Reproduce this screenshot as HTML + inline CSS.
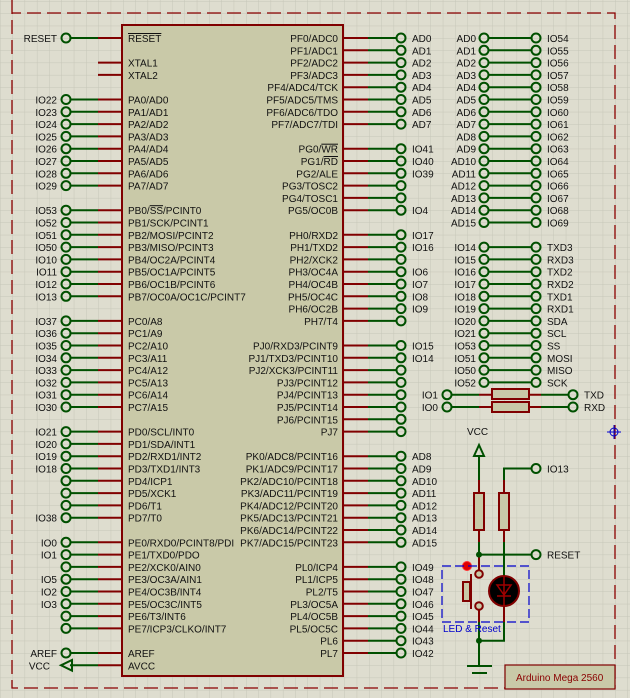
<!DOCTYPE html>
<html><head><meta charset="utf-8"><style>
html,body{margin:0;padding:0;background:#deddcf;}
svg{display:block;}
text{font-family:"Liberation Sans",sans-serif;font-size:10px;fill:#111;}
</style></head><body>
<svg width="630" height="698" viewBox="0 0 630 698" xmlns="http://www.w3.org/2000/svg">
<defs>
<pattern id="g" x="0" y="1.1" width="12.3" height="12.3" patternUnits="userSpaceOnUse">
<path d="M0 0H12.3M0 0V12.3" stroke="#c6c6b8" stroke-width="1" fill="none"/>
</pattern>
<g id="L"><line x1="98" y1="0" x2="122" y2="0" stroke="#800000" stroke-width="2"/><line x1="70" y1="0" x2="98" y2="0" stroke="#005000" stroke-width="2"/><circle cx="66" cy="0" r="4.5" fill="none" stroke="#005000" stroke-width="2"/></g>
<g id="R"><line x1="343" y1="0" x2="368" y2="0" stroke="#800000" stroke-width="2"/><line x1="368" y1="0" x2="397" y2="0" stroke="#005000" stroke-width="2"/><circle cx="401" cy="0" r="4.5" fill="none" stroke="#005000" stroke-width="2"/></g>
<g id="C"><line x1="488" y1="0" x2="532" y2="0" stroke="#005000" stroke-width="2"/><circle cx="484" cy="0" r="4.5" fill="none" stroke="#005000" stroke-width="2"/><circle cx="536" cy="0" r="4.5" fill="none" stroke="#005000" stroke-width="2"/></g>
</defs>
<rect width="630" height="698" fill="url(#g)"/>
<path d="M12 0V688H615V13H12" fill="none" stroke="#8a0000" stroke-width="1.3" stroke-dasharray="14,6"/>
<g stroke="#0000cc" stroke-width="1" fill="none"><circle cx="614" cy="432" r="4"/><line x1="607" y1="432" x2="621" y2="432"/><line x1="614" y1="425" x2="614" y2="439"/></g>
<rect x="122" y="25" width="221" height="651" fill="#c9c9a8" stroke="#800000" stroke-width="2"/>
<use href="#L" y="38"/>
<line x1="98" y1="62.6" x2="122" y2="62.6" stroke="#800000" stroke-width="2"/>
<line x1="98" y1="74.9" x2="122" y2="74.9" stroke="#800000" stroke-width="2"/>
<use href="#L" y="99.5"/><use href="#L" y="111.8"/><use href="#L" y="124.1"/><use href="#L" y="136.4"/><use href="#L" y="148.7"/><use href="#L" y="161"/><use href="#L" y="173.3"/><use href="#L" y="185.6"/>
<use href="#L" y="210.2"/><use href="#L" y="222.5"/><use href="#L" y="234.8"/><use href="#L" y="247.1"/><use href="#L" y="259.4"/><use href="#L" y="271.7"/><use href="#L" y="284"/><use href="#L" y="296.3"/>
<use href="#L" y="320.9"/><use href="#L" y="333.2"/><use href="#L" y="345.5"/><use href="#L" y="357.8"/><use href="#L" y="370.1"/><use href="#L" y="382.4"/><use href="#L" y="394.7"/><use href="#L" y="407"/>
<use href="#L" y="431.6"/><use href="#L" y="443.9"/><use href="#L" y="456.2"/><use href="#L" y="468.5"/><use href="#L" y="480.8"/><use href="#L" y="493.1"/><use href="#L" y="505.4"/><use href="#L" y="517.7"/>
<use href="#L" y="542.3"/><use href="#L" y="554.6"/><use href="#L" y="566.9"/><use href="#L" y="579.2"/><use href="#L" y="591.5"/><use href="#L" y="603.8"/><use href="#L" y="616.1"/><use href="#L" y="628.4"/>
<use href="#L" y="653"/>
<line x1="98" y1="665.3" x2="122" y2="665.3" stroke="#800000" stroke-width="2"/>
<line x1="70" y1="665.3" x2="98" y2="665.3" stroke="#005000" stroke-width="2"/>
<path d="M61 665.3L72 660V670.6Z" fill="none" stroke="#005000" stroke-width="2"/>
<use href="#R" y="38"/><use href="#R" y="50.3"/><use href="#R" y="62.6"/><use href="#R" y="74.9"/><use href="#R" y="87.2"/><use href="#R" y="99.5"/><use href="#R" y="111.8"/><use href="#R" y="124.1"/>
<use href="#R" y="148.7"/><use href="#R" y="161"/><use href="#R" y="173.3"/><use href="#R" y="185.6"/><use href="#R" y="197.9"/><use href="#R" y="210.2"/>
<use href="#R" y="234.8"/><use href="#R" y="247.1"/><use href="#R" y="259.4"/><use href="#R" y="271.7"/><use href="#R" y="284"/><use href="#R" y="296.3"/><use href="#R" y="308.6"/><use href="#R" y="320.9"/>
<use href="#R" y="345.5"/><use href="#R" y="357.8"/><use href="#R" y="370.1"/><use href="#R" y="382.4"/><use href="#R" y="394.7"/><use href="#R" y="407"/><use href="#R" y="419.3"/><use href="#R" y="431.6"/>
<use href="#R" y="456.2"/><use href="#R" y="468.5"/><use href="#R" y="480.8"/><use href="#R" y="493.1"/><use href="#R" y="505.4"/><use href="#R" y="517.7"/><use href="#R" y="530"/><use href="#R" y="542.3"/>
<use href="#R" y="566.9"/><use href="#R" y="579.2"/><use href="#R" y="591.5"/><use href="#R" y="603.8"/><use href="#R" y="616.1"/><use href="#R" y="628.4"/><use href="#R" y="640.7"/><use href="#R" y="653"/>
<use href="#C" y="38"/><use href="#C" y="50.3"/><use href="#C" y="62.6"/><use href="#C" y="74.9"/><use href="#C" y="87.2"/><use href="#C" y="99.5"/><use href="#C" y="111.8"/><use href="#C" y="124.1"/><use href="#C" y="136.4"/><use href="#C" y="148.7"/><use href="#C" y="161"/><use href="#C" y="173.3"/><use href="#C" y="185.6"/><use href="#C" y="197.9"/><use href="#C" y="210.2"/><use href="#C" y="222.5"/>
<use href="#C" y="247.1"/><use href="#C" y="259.4"/><use href="#C" y="271.7"/><use href="#C" y="284"/><use href="#C" y="296.3"/><use href="#C" y="308.6"/><use href="#C" y="320.9"/><use href="#C" y="333.2"/><use href="#C" y="345.5"/><use href="#C" y="357.8"/><use href="#C" y="370.1"/><use href="#C" y="382.4"/>
<g stroke-width="2" fill="none">
<circle cx="447" cy="394.7" r="4.5" stroke="#005000"/><circle cx="447" cy="407" r="4.5" stroke="#005000"/>
<circle cx="573" cy="394.7" r="4.5" stroke="#005000"/><circle cx="573" cy="407" r="4.5" stroke="#005000"/>
<line x1="451" y1="394.7" x2="479" y2="394.7" stroke="#005000"/><line x1="451" y1="407" x2="479" y2="407" stroke="#005000"/>
<line x1="479" y1="394.7" x2="541" y2="394.7" stroke="#800000"/><line x1="479" y1="407" x2="541" y2="407" stroke="#800000"/>
<line x1="541" y1="394.7" x2="569" y2="394.7" stroke="#005000"/><line x1="541" y1="407" x2="569" y2="407" stroke="#005000"/>
<rect x="492" y="389" width="37" height="10" fill="#c9c9a8" stroke="#800000"/><rect x="492" y="402" width="37" height="10" fill="#c9c9a8" stroke="#800000"/>
</g>
<g stroke-width="2" fill="none">
<path d="M479 445L474 456H484Z" stroke="#005000"/>
<line x1="479" y1="456" x2="479" y2="480" stroke="#005000"/>
<line x1="479" y1="480" x2="479" y2="492" stroke="#800000"/>
<rect x="474" y="493" width="10" height="37" fill="#c9c9a8" stroke="#800000"/>
<line x1="479" y1="530" x2="479" y2="542" stroke="#800000"/>
<line x1="479" y1="542" x2="479" y2="554.6" stroke="#005000"/>
<path d="M504 480V468.5H532" stroke="#005000"/>
<line x1="504" y1="480" x2="504" y2="492" stroke="#800000"/>
<rect x="499" y="493" width="10" height="37" fill="#c9c9a8" stroke="#800000"/>
<line x1="504" y1="530" x2="504" y2="542" stroke="#800000"/>
<line x1="504" y1="542" x2="504" y2="576" stroke="#005000"/>
<circle cx="536" cy="468.5" r="4.5" stroke="#005000"/>
<line x1="479" y1="554.6" x2="532" y2="554.6" stroke="#005000"/>
<circle cx="536" cy="554.6" r="4.5" stroke="#005000"/>
<line x1="479" y1="554.6" x2="479" y2="570" stroke="#800000"/>
<circle cx="479" cy="574" r="3.8" fill="#c9c9a8" stroke="#800000"/>
<circle cx="479" cy="606" r="3.8" fill="#c9c9a8" stroke="#800000"/>
<line x1="479" y1="610" x2="479" y2="622" stroke="#800000"/>
<line x1="479" y1="622" x2="479" y2="666" stroke="#005000"/>
<rect x="463" y="582" width="7" height="19" fill="#c9c9a8" stroke="#800000"/>
<line x1="471" y1="574" x2="471" y2="609" stroke="#800000"/>
<line x1="504" y1="606" x2="504" y2="622" stroke="#800000"/>
<path d="M504 622V640.7H479" stroke="#005000"/>
<line x1="467" y1="666" x2="492" y2="666" stroke="#005000"/>
<line x1="472" y1="673" x2="487" y2="673" stroke="#005000"/>
</g>
<circle cx="504" cy="591" r="15" fill="#000" stroke="#800000" stroke-width="2"/>
<path d="M497 585H511L504 595Z M497 596H511 M504 576V606" fill="none" stroke="#a00000" stroke-width="1.5"/>
<circle cx="479" cy="554.6" r="3" fill="#005000"/>
<circle cx="479" cy="640.7" r="3" fill="#005000"/>
<circle cx="467" cy="566" r="4.5" fill="#e00000" stroke="#ff3030"/>
<rect x="442" y="566" width="87" height="56" fill="none" stroke="#0000cc" stroke-width="1.2" stroke-dasharray="9,4"/>
<text x="443" y="632" style="fill:#0000cc">LED &amp; Reset</text>
<rect x="505" y="665" width="110" height="24" fill="#c9c9a8" stroke="#800000" stroke-width="1.2"/>
<text x="516" y="681" style="fill:#8a0000">Arduino Mega 2560</text>
<g>
<text x="128" y="42" text-decoration="overline">RESET</text>
<text x="128" y="66.6">XTAL1</text><text x="128" y="78.9">XTAL2</text>
<text x="128" y="103.5">PA0/AD0</text><text x="128" y="115.8">PA1/AD1</text><text x="128" y="128.1">PA2/AD2</text><text x="128" y="140.4">PA3/AD3</text><text x="128" y="152.7">PA4/AD4</text><text x="128" y="165">PA5/AD5</text><text x="128" y="177.3">PA6/AD6</text><text x="128" y="189.6">PA7/AD7</text>
<text x="128" y="214.2">PB0/<tspan text-decoration="overline">SS</tspan>/PCINT0</text><text x="128" y="226.5">PB1/SCK/PCINT1</text><text x="128" y="238.8">PB2/MOSI/PCINT2</text><text x="128" y="251.1">PB3/MISO/PCINT3</text><text x="128" y="263.4">PB4/OC2A/PCINT4</text><text x="128" y="275.7">PB5/OC1A/PCINT5</text><text x="128" y="288">PB6/OC1B/PCINT6</text><text x="128" y="300.3">PB7/OC0A/OC1C/PCINT7</text>
<text x="128" y="324.9">PC0/A8</text><text x="128" y="337.2">PC1/A9</text><text x="128" y="349.5">PC2/A10</text><text x="128" y="361.8">PC3/A11</text><text x="128" y="374.1">PC4/A12</text><text x="128" y="386.4">PC5/A13</text><text x="128" y="398.7">PC6/A14</text><text x="128" y="411">PC7/A15</text>
<text x="128" y="435.6">PD0/SCL/INT0</text><text x="128" y="447.9">PD1/SDA/INT1</text><text x="128" y="460.2">PD2/RXD1/INT2</text><text x="128" y="472.5">PD3/TXD1/INT3</text><text x="128" y="484.8">PD4/ICP1</text><text x="128" y="497.1">PD5/XCK1</text><text x="128" y="509.4">PD6/T1</text><text x="128" y="521.7">PD7/T0</text>
<text x="128" y="546.3">PE0/RXD0/PCINT8/PDI</text><text x="128" y="558.6">PE1/TXD0/PDO</text><text x="128" y="570.9">PE2/XCK0/AIN0</text><text x="128" y="583.2">PE3/OC3A/AIN1</text><text x="128" y="595.5">PE4/OC3B/INT4</text><text x="128" y="607.8">PE5/OC3C/INT5</text><text x="128" y="620.1">PE6/T3/INT6</text><text x="128" y="632.4">PE7/ICP3/CLKO/INT7</text>
<text x="128" y="657">AREF</text><text x="128" y="669.3">AVCC</text>
</g>
<g text-anchor="end">
<text x="338" y="42">PF0/ADC0</text><text x="338" y="54.3">PF1/ADC1</text><text x="338" y="66.6">PF2/ADC2</text><text x="338" y="78.9">PF3/ADC3</text><text x="338" y="91.2">PF4/ADC4/TCK</text><text x="338" y="103.5">PF5/ADC5/TMS</text><text x="338" y="115.8">PF6/ADC6/TDO</text><text x="338" y="128.1">PF7/ADC7/TDI</text>
<text x="338" y="152.7">PG0/<tspan text-decoration="overline">WR</tspan></text><text x="338" y="165">PG1/<tspan text-decoration="overline">RD</tspan></text><text x="338" y="177.3">PG2/ALE</text><text x="338" y="189.6">PG3/TOSC2</text><text x="338" y="201.9">PG4/TOSC1</text><text x="338" y="214.2">PG5/OC0B</text>
<text x="338" y="238.8">PH0/RXD2</text><text x="338" y="251.1">PH1/TXD2</text><text x="338" y="263.4">PH2/XCK2</text><text x="338" y="275.7">PH3/OC4A</text><text x="338" y="288">PH4/OC4B</text><text x="338" y="300.3">PH5/OC4C</text><text x="338" y="312.6">PH6/OC2B</text><text x="338" y="324.9">PH7/T4</text>
<text x="338" y="349.5">PJ0/RXD3/PCINT9</text><text x="338" y="361.8">PJ1/TXD3/PCINT10</text><text x="338" y="374.1">PJ2/XCK3/PCINT11</text><text x="338" y="386.4">PJ3/PCINT12</text><text x="338" y="398.7">PJ4/PCINT13</text><text x="338" y="411">PJ5/PCINT14</text><text x="338" y="423.3">PJ6/PCINT15</text><text x="338" y="435.6">PJ7</text>
<text x="338" y="460.2">PK0/ADC8/PCINT16</text><text x="338" y="472.5">PK1/ADC9/PCINT17</text><text x="338" y="484.8">PK2/ADC10/PCINT18</text><text x="338" y="497.1">PK3/ADC11/PCINT19</text><text x="338" y="509.4">PK4/ADC12/PCINT20</text><text x="338" y="521.7">PK5/ADC13/PCINT21</text><text x="338" y="534">PK6/ADC14/PCINT22</text><text x="338" y="546.3">PK7/ADC15/PCINT23</text>
<text x="338" y="570.9">PL0/ICP4</text><text x="338" y="583.2">PL1/ICP5</text><text x="338" y="595.5">PL2/T5</text><text x="338" y="607.8">PL3/OC5A</text><text x="338" y="620.1">PL4/OC5B</text><text x="338" y="632.4">PL5/OC5C</text><text x="338" y="644.7">PL6</text><text x="338" y="657">PL7</text>
</g>
<g text-anchor="end">
<text x="57" y="42">RESET</text>
<text x="57" y="103.5">IO22</text><text x="57" y="115.8">IO23</text><text x="57" y="128.1">IO24</text><text x="57" y="140.4">IO25</text><text x="57" y="152.7">IO26</text><text x="57" y="165">IO27</text><text x="57" y="177.3">IO28</text><text x="57" y="189.6">IO29</text>
<text x="57" y="214.2">IO53</text><text x="57" y="226.5">IO52</text><text x="57" y="238.8">IO51</text><text x="57" y="251.1">IO50</text><text x="57" y="263.4">IO10</text><text x="57" y="275.7">IO11</text><text x="57" y="288">IO12</text><text x="57" y="300.3">IO13</text>
<text x="57" y="324.9">IO37</text><text x="57" y="337.2">IO36</text><text x="57" y="349.5">IO35</text><text x="57" y="361.8">IO34</text><text x="57" y="374.1">IO33</text><text x="57" y="386.4">IO32</text><text x="57" y="398.7">IO31</text><text x="57" y="411">IO30</text>
<text x="57" y="435.6">IO21</text><text x="57" y="447.9">IO20</text><text x="57" y="460.2">IO19</text><text x="57" y="472.5">IO18</text><text x="57" y="521.7">IO38</text>
<text x="57" y="546.3">IO0</text><text x="57" y="558.6">IO1</text><text x="57" y="583.2">IO5</text><text x="57" y="595.5">IO2</text><text x="57" y="607.8">IO3</text>
<text x="57" y="657">AREF</text><text x="50" y="669.3">VCC</text>
</g>
<g>
<text x="412" y="42">AD0</text><text x="412" y="54.3">AD1</text><text x="412" y="66.6">AD2</text><text x="412" y="78.9">AD3</text><text x="412" y="91.2">AD4</text><text x="412" y="103.5">AD5</text><text x="412" y="115.8">AD6</text><text x="412" y="128.1">AD7</text>
<text x="412" y="152.7">IO41</text><text x="412" y="165">IO40</text><text x="412" y="177.3">IO39</text><text x="412" y="214.2">IO4</text>
<text x="412" y="238.8">IO17</text><text x="412" y="251.1">IO16</text><text x="412" y="275.7">IO6</text><text x="412" y="288">IO7</text><text x="412" y="300.3">IO8</text><text x="412" y="312.6">IO9</text>
<text x="412" y="349.5">IO15</text><text x="412" y="361.8">IO14</text>
<text x="412" y="460.2">AD8</text><text x="412" y="472.5">AD9</text><text x="412" y="484.8">AD10</text><text x="412" y="497.1">AD11</text><text x="412" y="509.4">AD12</text><text x="412" y="521.7">AD13</text><text x="412" y="534">AD14</text><text x="412" y="546.3">AD15</text>
<text x="412" y="570.9">IO49</text><text x="412" y="583.2">IO48</text><text x="412" y="595.5">IO47</text><text x="412" y="607.8">IO46</text><text x="412" y="620.1">IO45</text><text x="412" y="632.4">IO44</text><text x="412" y="644.7">IO43</text><text x="412" y="657">IO42</text>
</g>
<g text-anchor="end">
<text x="476" y="42">AD0</text><text x="476" y="54.3">AD1</text><text x="476" y="66.6">AD2</text><text x="476" y="78.9">AD3</text><text x="476" y="91.2">AD4</text><text x="476" y="103.5">AD5</text><text x="476" y="115.8">AD6</text><text x="476" y="128.1">AD7</text><text x="476" y="140.4">AD8</text><text x="476" y="152.7">AD9</text><text x="476" y="165">AD10</text><text x="476" y="177.3">AD11</text><text x="476" y="189.6">AD12</text><text x="476" y="201.9">AD13</text><text x="476" y="214.2">AD14</text><text x="476" y="226.5">AD15</text>
<text x="476" y="251.1">IO14</text><text x="476" y="263.4">IO15</text><text x="476" y="275.7">IO16</text><text x="476" y="288">IO17</text><text x="476" y="300.3">IO18</text><text x="476" y="312.6">IO19</text><text x="476" y="324.9">IO20</text><text x="476" y="337.2">IO21</text><text x="476" y="349.5">IO53</text><text x="476" y="361.8">IO51</text><text x="476" y="374.1">IO50</text><text x="476" y="386.4">IO52</text>
<text x="438" y="398.7">IO1</text><text x="438" y="411">IO0</text>
</g>
<g>
<text x="547" y="42">IO54</text><text x="547" y="54.3">IO55</text><text x="547" y="66.6">IO56</text><text x="547" y="78.9">IO57</text><text x="547" y="91.2">IO58</text><text x="547" y="103.5">IO59</text><text x="547" y="115.8">IO60</text><text x="547" y="128.1">IO61</text><text x="547" y="140.4">IO62</text><text x="547" y="152.7">IO63</text><text x="547" y="165">IO64</text><text x="547" y="177.3">IO65</text><text x="547" y="189.6">IO66</text><text x="547" y="201.9">IO67</text><text x="547" y="214.2">IO68</text><text x="547" y="226.5">IO69</text>
<text x="547" y="251.1">TXD3</text><text x="547" y="263.4">RXD3</text><text x="547" y="275.7">TXD2</text><text x="547" y="288">RXD2</text><text x="547" y="300.3">TXD1</text><text x="547" y="312.6">RXD1</text><text x="547" y="324.9">SDA</text><text x="547" y="337.2">SCL</text><text x="547" y="349.5">SS</text><text x="547" y="361.8">MOSI</text><text x="547" y="374.1">MISO</text><text x="547" y="386.4">SCK</text>
<text x="584" y="398.7">TXD</text><text x="584" y="411">RXD</text>
<text x="467" y="435">VCC</text>
<text x="547" y="472.5">IO13</text><text x="547" y="558.6">RESET</text>
</g>
</svg>
</body></html>
